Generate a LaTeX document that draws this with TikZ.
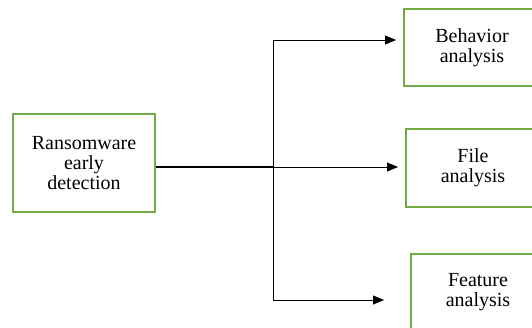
\documentclass[tikz,border=0pt]{standalone}
\usepackage{fontspec}
\setmainfont{Liberation Serif}
\usetikzlibrary{arrows.meta}
\definecolor{boxgreen}{RGB}{112,173,71}

\begin{document}
\begin{tikzpicture}[x=1pt,y=-1pt,
  gbox/.style={draw=boxgreen,line width=2pt,align=center,inner sep=0pt,
    font=\fontsize{20}{20}\selectfont},
  >={Triangle[length=11pt,width=9pt]}]
  \clip (0,0) rectangle (532,327);
  \node[gbox,minimum width=142pt,minimum height=98pt] (detect) at (84,163) {Ransomware\\early\\detection};
  \node[gbox,minimum width=136pt,minimum height=77pt] (behav) at (472,47.5) {Behavior\\analysis};
  \node[gbox,minimum width=134pt,minimum height=78pt] (file) at (473,168) {File\\analysis};
  \node[gbox,minimum width=134pt,minimum height=77pt] (feat) at (478,292) {Feature\\analysis};
  \coordinate (split) at (273,167);
  \coordinate (behavin) at (396,40);
  \coordinate (filein) at (398,167);
  \coordinate (featin) at (384,300);
  \draw[line width=1.2pt] (detect.east |- split) -- (split);
  \draw[->] (split) |- (behavin);
  \draw[->] (split) -- (filein);
  \draw[->] (split) |- (featin);
\end{tikzpicture}
\end{document}
